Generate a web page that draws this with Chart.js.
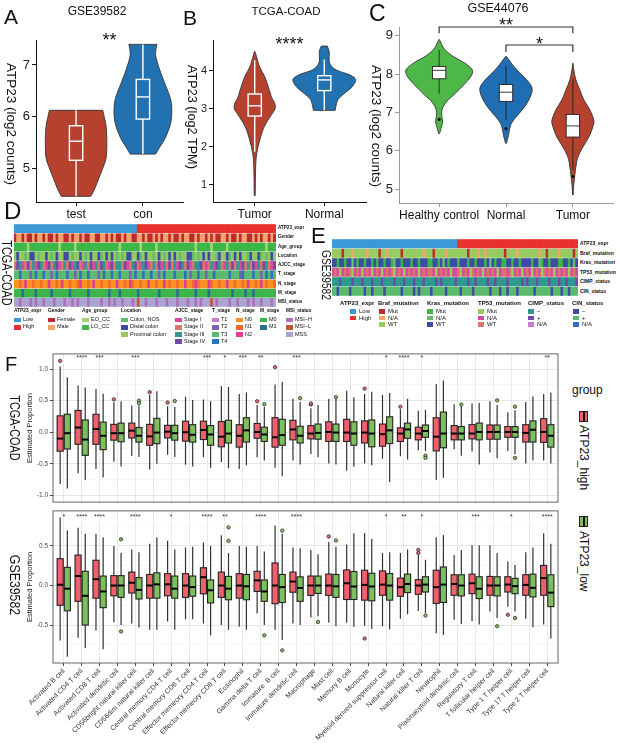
<!DOCTYPE html>
<html>
<head>
<meta charset="utf-8">
<script src="https://cdn.jsdelivr.net/npm/chart.js@4.4.1/dist/chart.umd.min.js"></script>
<style>
  body { margin: 0; background: #fff; font-family: "Liberation Sans", Arial, sans-serif; }
  #page { position: relative; width: 620px; height: 748px; overflow: hidden; background: #fff; }
  canvas { position: absolute; }
  .t { position: absolute; white-space: nowrap; line-height: 1; color: #111; }
  .v { writing-mode: vertical-rl; }
  .sw { position: absolute; }
</style>
</head>
<body>
<div id="page">
  <canvas id="chartA" width="200" height="225" style="left:0;top:0"></canvas>
  <canvas id="chartB" width="185" height="225" style="left:185px;top:0"></canvas>
  <canvas id="chartC" width="255" height="225" style="left:365px;top:0"></canvas>
  <canvas id="heatD" width="262" height="83" style="left:14px;top:224px"></canvas>
  <canvas id="heatE" width="246" height="57" style="left:332px;top:239px"></canvas>
  <canvas id="boxTop" width="562" height="160" style="left:0;top:348px"></canvas>
  <canvas id="boxBottom" width="562" height="243" style="left:0;top:505px"></canvas>

  <div class="t" style="left:4px;top:5.6px;font-size:21px">A</div>
  <div class="t" style="left:183px;top:6.6px;font-size:21px">B</div>
  <div class="t" style="left:369px;top:2px;font-size:23px">C</div>
  <div class="t" style="left:4px;top:199px;font-size:24px">D</div>
  <div class="t" style="left:311px;top:225px;font-size:22px">E</div>
  <div class="t" style="left:5px;top:354px;font-size:20px">F</div>

  <div class="t" style="left:0;width:194px;text-align:center;top:5.4px;font-size:12px">GSE39582</div>
  <div class="t" style="left:236px;width:100px;text-align:center;top:5.8px;font-size:11.5px">TCGA-COAD</div>
  <div class="t" style="left:448px;width:100px;text-align:center;top:2.4px;font-size:12.5px">GSE44076</div>

  <div class="t v" style="left:4.3px;top:63px;font-size:13.5px">ATP23 (log2 counts)</div>
  <div class="t v" style="left:185.6px;top:65px;font-size:12.7px">ATP23 (log2 TPM)</div>
  <div class="t v" style="left:369.3px;top:65px;font-size:13.5px">ATP23 (log2 counts)</div>

  <div class="t v" style="left:0;top:272.5px;font-size:14px;transform:translateY(-50%) scaleY(0.78)">TCGA-COAD</div>
  <div class="t v" style="left:320px;top:275px;font-size:12px;transform:translateY(-50%) scaleY(0.85)">GSE39582</div>
  <div class="t v" style="left:8px;top:428px;font-size:14px;transform:translateY(-50%) scaleY(0.78)">TCGA-COAD</div>
  <div class="t v" style="left:8px;top:585px;font-size:14px;transform:translateY(-50%) scaleY(0.88)">GSE39582</div>

  <div class="t" style="left:572px;top:383.5px;font-size:12px">group</div>
  <div class="sw" style="left:579px;top:411px;width:7px;height:9px;background:#F0606A;border:1px solid #222"></div>
  <div class="sw" style="left:583px;top:411px;width:1.5px;height:11px;background:#111"></div>
  <div class="t v" style="left:578px;top:425px;font-size:12px">ATP23_high</div>
  <div class="sw" style="left:579px;top:516px;width:7px;height:9px;background:#7CBF5C;border:1px solid #222"></div>
  <div class="sw" style="left:583px;top:516px;width:1.5px;height:11px;background:#111"></div>
  <div class="t v" style="left:578px;top:531px;font-size:12px">ATP23_low</div>
</div>
<script>
Chart.defaults.font.family = '"Liberation Sans", Arial, sans-serif';

// ---------- A: GSE39582 ----------
const aGroups = ['test', 'con'];
const aTestLevels = [4.45, 4.6, 4.8, 5.0, 5.2, 5.5, 5.8, 6.0, 6.12];
const aTestWidths = [0.22, 0.28, 0.34, 0.40, 0.45, 0.46, 0.45, 0.42, 0.40];
const aConLevels = [5.27, 5.4, 5.6, 5.9, 6.2, 6.4, 6.7, 6.95, 7.2, 7.4];
const aConWidths = [0.19, 0.25, 0.34, 0.42, 0.43, 0.40, 0.31, 0.24, 0.19, 0.21];
const aBoxes = [[4.45, 5.15, 5.52, 5.82, 6.12], [5.27, 5.95, 6.38, 6.72, 7.4]];
const aTicks = [5, 6, 7];

// ---------- B: TCGA-COAD ----------
const bGroups = ['Tumor', 'Normal'];
const bTumorLevels = [0.72, 1.5, 1.9, 2.35, 2.6, 2.85, 3.0, 3.15, 3.3, 3.55, 3.85, 4.1, 4.38, 4.5];
const bTumorWidths = [0.007, 0.014, 0.036, 0.10, 0.157, 0.243, 0.293, 0.286, 0.243, 0.20, 0.143, 0.071, 0.024, 0.007];
const bNormalLevels = [2.96, 3.1, 3.25, 3.4, 3.55, 3.7, 3.8, 3.9, 4.0, 4.1, 4.25, 4.5, 4.65];
const bNormalWidths = [0.157, 0.171, 0.20, 0.286, 0.386, 0.443, 0.443, 0.357, 0.20, 0.114, 0.071, 0.071, 0.043];
const bBoxes = [[1.87, 2.81, 3.08, 3.39, 4.28], [2.96, 3.48, 3.76, 3.87, 4.3]];
const bTicks = [1, 2, 3, 4];

// ---------- C: GSE44076 ----------
const cGroups = ['Healthy control', 'Normal', 'Tumor'];
const cHealthyLevels = [6.45, 6.6, 6.75, 6.85, 7.0, 7.15, 7.3, 7.47, 7.73, 7.95, 8.12, 8.3, 8.48, 8.66, 8.84, 8.9];
const cHealthyWidths = [0.007, 0.03, 0.052, 0.045, 0.037, 0.06, 0.12, 0.224, 0.373, 0.478, 0.493, 0.373, 0.194, 0.075, 0.022, 0.007];
const cNormalLevels = [6.2, 6.4, 6.55, 6.7, 6.85, 7.0, 7.2, 7.45, 7.65, 7.85, 8.0, 8.2, 8.37, 8.46];
const cNormalWidths = [0.007, 0.037, 0.052, 0.075, 0.134, 0.209, 0.299, 0.373, 0.388, 0.313, 0.224, 0.119, 0.045, 0.007];
const cTumorLevels = [4.85, 5.15, 5.58, 5.84, 6.1, 6.36, 6.63, 6.8, 7.07, 7.33, 7.59, 7.85, 8.1, 8.28];
const cTumorWidths = [0.004, 0.015, 0.045, 0.075, 0.149, 0.239, 0.299, 0.313, 0.254, 0.164, 0.104, 0.045, 0.015, 0.004];
const cBoxes = [[7.49, 7.88, 8.1, 8.2, 8.63], [6.8, 7.29, 7.53, 7.73, 8.22], [5.5, 6.36, 6.65, 6.95, 7.88]];
const cOutliers = [[6.82], [6.58], [5.33]];
const cTicks = [5, 6, 7, 8, 9];

// ---------- D: TCGA-COAD annotation heatmap ----------
const dRowNames = ['ATP23_expr', 'Gender', 'Age_group', 'Location', 'AJCC_stage', 'T_stage', 'N_stage', 'M_stage', 'MSI_status'];
const dLevels = [['Low', 'High'], ['Female', 'Male'], ['EO_CC', 'LO_CC'], ['Colon, NOS', 'Distal colon', 'Proximal colon'],
  ['Stage I', 'Stage II', 'Stage III', 'Stage IV'], ['T1', 'T2', 'T3', 'T4'], ['N0', 'N1', 'N2'], ['M0', 'M1'], ['MSI\u2212H', 'MSI\u2212L', 'MSS']];
const dRows = [
  '0000000000 0000000000 0000000000 0000000000 0000000111 1111111111 1111111111 1111111111 1111111111 1111111111',
  '0110100101 1010010110 0101101001 1001101010 0101100110 1001010110 1001011001 0110101001 1010010110 0101011010',
  '1111101111 1111111011 1110111111 1111111111 0111111101 1111011111 1111111110 1111101111 1011111111 1111110111',
  '2122021120 2212021221 1202212021 2210212120 2021122102 1220212021 2120221102 0212122012 2102121220 1221020212',
  '1320131203 2103123012 1302310213 0213210312 2130123102 3012130213 1203213012 2310120321 0213120312 1302132103',
  '2232221232 2322123222 3221232232 2212322322 3222123223 2232212322 2322232122 3221223222 2232221322 2322123232',
  '0010200100 1002001020 0100120010 2001001002 0010210010 0200100201 0010020012 1000210010 0200100102 0010201001',
  '0001000010 0000100000 0100000010 0000001000 1000000100 0000010000 0010000001 0000100000 0001000010 0100000000',
  '2202220202 2022202220 2202022202 2220220202 2022202122 0222022202 2202220220 2022212022 2202202220 2022022202'
];
const dPalette = [
  ['#3B9AD6', '#E8322E'], ['#BE2A2F', '#F4A469'], ['#A2D373', '#3DB649'], ['#62BD6E', '#3C4BA3', '#94C95F'],
  ['#D84A9C', '#D7776B', '#2C9A8D', '#6C4CA5'], ['#C57DC7', '#7B62B6', '#5BBA6C', '#2F70BF'],
  ['#F7941E', '#F26A2C', '#DE3D96'], ['#3CB54A', '#2C6E8D'], ['#B06EC0', '#C2553A', '#A9A5D0']
];

// ---------- E: GSE39582 annotation heatmap ----------
const eRowNames = ['ATP23_expr', 'Braf_mutation', 'Kras_mutation', 'TP53_mutation', 'CIMP_status', 'CIN_status'];
const eLevels = [['Low', 'High'], ['Mut', 'N/A', 'WT'], ['Mut', 'N/A', 'WT'], ['Mut', 'N/A', 'WT'], ['\u2212', '+', 'N/A'], ['\u2212', '+', 'N/A']];
const eRows = [
  '0000000000 0000000000 0000000000 0000000000 0000000000 0111111111 1111111111 1111111111 1111111111 1111111111',
  '2222022212 2222122220 2212222202 2222222122 2022221222 2222202221 2212222222 0222212222 2222122022 2212222202',
  '2202202212 0220220202 2022012202 2202202220 0220212022 2022202202 2202120220 0220220222 2022102202 2200220212',
  '1210121201 2101210121 0121201210 1212101212 2101212101 1201210212 1012121012 2120121012 1012102121 0121210121',
  '0001000010 0010001000 1000010001 0001000100 0010100000 1000010010 0001001000 0100000101 0001000010 0010010001',
  '1101111011 1110110111 1011111101 1110101111 0111110111 1101111011 1111011101 1011101111 1101111110 1110110111'
];
const ePalette = [
  ['#3B9AD6', '#E8322E'], ['#BE2A2F', '#F4A469', '#95CC61'], ['#3CB549', '#62BD6E', '#3C4BA3'],
  ['#9BCB5F', '#D84A9C', '#D7776B'], ['#2C9A8D', '#6C4CA5', '#C57DC7'], ['#3C4BA3', '#5BBA6C', '#2F70BF']
];

// ---------- F: immune cell proportions, [whisker low, q1, median, q3, whisker high] ----------
const cellTypes = ['Activated B cell', 'Activated CD4 T cell', 'Activated CD8 T cell', 'Activated dendritic cell',
  'CD56bright natural killer cell', 'CD56dim natural killer cell', 'Central memory CD4 T cell', 'Central memory CD8 T cell',
  'Effector memeory CD4 T cell', 'Effector memeory CD8 T cell', 'Eosinophil', 'Gamma delta T cell', 'Immature  B cell',
  'Immature dendritic cell', 'Macrophage', 'Mast cell', 'Memory B cell', 'Monocyte', 'Myeloid derived suppressor cell',
  'Natural killer cell', 'Natural killer T cell', 'Neutrophil', 'Plasmacytoid dendritic cell', 'Regulatory T cell',
  'T follicular helper cell', 'Type 1 T helper cell', 'Type 17 T helper cell', 'Type 2 T helper cell'];

const tcgaHigh = [
  [-0.82, -0.30, -0.10, 0.26, 1.04], [-0.65, -0.19, 0.075, 0.345, 0.74], [-0.58, -0.19, 0.05, 0.285, 0.685],
  [-0.465, -0.125, -0.015, 0.125, 0.475], [-0.375, -0.09, 0.025, 0.145, 0.425], [-0.59, -0.205, -0.065, 0.125, 0.595],
  [-0.355, -0.09, 0.01, 0.11, 0.41], [-0.515, -0.14, 0.0, 0.175, 0.56], [-0.39, -0.115, 0.035, 0.175, 0.52],
  [-0.47, -0.23, -0.07, 0.17, 0.73], [-0.58, -0.235, -0.055, 0.12, 0.605], [-0.395, -0.095, 0.005, 0.14, 0.43],
  [-0.56, -0.235, -0.08, 0.23, 0.755], [-0.445, -0.12, 0.045, 0.19, 0.53], [-0.345, -0.105, -0.02, 0.105, 0.38],
  [-0.495, -0.145, 0.005, 0.165, 0.53], [-0.61, -0.145, -0.005, 0.205, 0.655], [-0.495, -0.17, -0.005, 0.18, 0.605],
  [-0.42, -0.22, -0.03, 0.13, 0.59], [-0.38, -0.145, -0.02, 0.07, 0.365], [-0.285, -0.12, -0.02, 0.08, 0.34],
  [-0.755, -0.295, -0.07, 0.23, 0.765], [-0.27, -0.12, -0.02, 0.105, 0.445], [-0.305, -0.105, -0.02, 0.12, 0.455],
  [-0.32, -0.11, 0.005, 0.115, 0.49], [-0.295, -0.08, 0.005, 0.09, 0.315], [-0.495, -0.155, -0.01, 0.12, 0.48],
  [-0.445, -0.16, 0.005, 0.215, 0.605]
];
const tcgaLow = [
  [-0.89, -0.265, -0.015, 0.285, 0.87], [-0.755, -0.365, -0.115, 0.195, 0.71], [-0.715, -0.275, -0.055, 0.16, 0.61],
  [-0.54, -0.15, -0.015, 0.145, 0.485], [-0.39, -0.155, -0.055, 0.075, 0.425], [-0.5, -0.18, -0.005, 0.22, 0.65],
  [-0.39, -0.125, -0.015, 0.11, 0.4], [-0.54, -0.155, -0.04, 0.12, 0.51], [-0.56, -0.205, -0.035, 0.105, 0.49],
  [-0.57, -0.17, -0.02, 0.19, 0.715], [-0.52, -0.155, 0.03, 0.23, 0.63], [-0.445, -0.145, -0.035, 0.08, 0.405],
  [-0.695, -0.205, -0.045, 0.205, 0.795], [-0.51, -0.17, -0.055, 0.095, 0.48], [-0.395, -0.11, -0.01, 0.13, 0.43],
  [-0.51, -0.145, -0.005, 0.13, 0.53], [-0.545, -0.205, -0.02, 0.165, 0.555], [-0.52, -0.23, -0.02, 0.195, 0.64],
  [-0.785, -0.18, 0.03, 0.245, 0.62], [-0.43, -0.095, 0.045, 0.145, 0.53], [-0.295, -0.08, 0.02, 0.115, 0.355],
  [-0.72, -0.245, -0.02, 0.32, 0.82], [-0.37, -0.12, -0.02, 0.09, 0.42], [-0.51, -0.12, 0.005, 0.145, 0.465],
  [-0.41, -0.11, 0.005, 0.115, 0.43], [-0.345, -0.08, 0.005, 0.09, 0.35], [-0.445, -0.155, 0.04, 0.18, 0.565],
  [-0.495, -0.235, -0.055, 0.12, 0.63]
];
const tcgaHighOut = [[0, 1.13], [3, 0.52], [5, 0.635], [6, 0.47], [11, 0.49], [12, 1.03], [14, 0.44], [14, 0.455], [17, 0.69], [19, 0.405]];
const tcgaLowOut = [[4, 0.5], [4, 0.46], [6, 0.495], [11, 0.445], [13, 0.54], [15, 0.555], [20, -0.37], [20, -0.405], [22, 0.44], [24, 0.505], [25, 0.405], [25, -0.405]];
const tcgaStars = ['', '****', '***', '', '***', '', '', '', '***', '*', '***', '**', '', '***', '', '', '', '', '*', '****', '*', '', '', '', '', '', '', '**'];
const tcgaGrid = [-1, -0.75, -0.5, -0.25, 0, 0.25, 0.5, 0.75, 1];

const gseHigh = [
  [-0.695, -0.25, 0.01, 0.34, 0.86], [-0.66, -0.2, 0.12, 0.385, 0.73], [-0.57, -0.16, 0.08, 0.32, 0.655],
  [-0.465, -0.13, 0.0, 0.125, 0.5], [-0.48, -0.095, 0.035, 0.17, 0.455], [-0.56, -0.16, 0.0, 0.14, 0.53],
  [-0.455, -0.13, 0.015, 0.15, 0.565], [-0.425, -0.15, 0.0, 0.15, 0.48], [-0.48, -0.105, 0.105, 0.225, 0.545],
  [-0.5, -0.15, 0.0, 0.17, 0.635], [-0.52, -0.16, 0.0, 0.15, 0.5], [-0.355, -0.075, 0.065, 0.18, 0.5],
  [-0.56, -0.23, 0.0, 0.285, 0.76], [-0.48, -0.085, 0.05, 0.17, 0.48], [-0.405, -0.125, 0.0, 0.12, 0.45],
  [-0.47, -0.125, 0.0, 0.145, 0.55], [-0.47, -0.177, 0.029, 0.197, 0.52], [-0.51, -0.185, 0.008, 0.193, 0.665],
  [-0.514, -0.123, 0.012, 0.185, 0.41], [-0.42, -0.136, -0.021, 0.094, 0.41], [-0.321, -0.111, 0.0, 0.074, 0.385],
  [-0.605, -0.226, -0.021, 0.193, 0.61], [-0.432, -0.123, 0.02, 0.136, 0.385], [-0.453, -0.103, 0.029, 0.144, 0.51],
  [-0.329, -0.123, 0.0, 0.115, 0.51], [-0.267, -0.082, 0.012, 0.111, 0.305], [-0.42, -0.123, 0.008, 0.136, 0.42],
  [-0.494, -0.123, 0.094, 0.255, 0.66]
];
const gseLow = [
  [-0.9, -0.32, -0.04, 0.23, 0.695], [-0.79, -0.5, -0.13, 0.18, 0.655], [-0.805, -0.28, -0.075, 0.12, 0.61],
  [-0.5, -0.15, 0.0, 0.125, 0.415], [-0.53, -0.17, -0.055, 0.1, 0.42], [-0.56, -0.16, 0.015, 0.16, 0.61],
  [-0.56, -0.16, -0.04, 0.12, 0.455], [-0.425, -0.135, -0.02, 0.12, 0.49], [-0.63, -0.22, -0.06, 0.07, 0.5],
  [-0.56, -0.18, -0.04, 0.115, 0.41], [-0.56, -0.18, -0.01, 0.14, 0.49], [-0.5, -0.2, -0.075, 0.07, 0.43],
  [-0.69, -0.215, -0.02, 0.14, 0.655], [-0.5, -0.2, -0.03, 0.11, 0.47], [-0.39, -0.1, 0.0, 0.12, 0.395],
  [-0.515, -0.15, -0.01, 0.14, 0.49], [-0.52, -0.177, -0.012, 0.177, 0.66], [-0.55, -0.193, -0.012, 0.156, 0.59],
  [-0.556, -0.185, 0.0, 0.152, 0.42], [-0.362, -0.09, 0.02, 0.144, 0.455], [-0.35, -0.082, 0.012, 0.111, 0.325],
  [-0.626, -0.214, 0.012, 0.234, 0.64], [-0.486, -0.132, 0.0, 0.136, 0.45], [-0.494, -0.165, -0.041, 0.111, 0.51],
  [-0.412, -0.132, 0.0, 0.111, 0.41], [-0.329, -0.103, -0.008, 0.09, 0.26], [-0.527, -0.144, -0.029, 0.144, 0.48],
  [-0.671, -0.267, -0.09, 0.136, 0.53]
];
const gseHighOut = [[15, 0.62], [17, -0.67], [20, 0.45], [20, 0.41], [25, -0.37]];
const gseLowOut = [[3, 0.585], [3, -0.58], [9, 0.735], [9, 0.565], [11, -0.63], [12, 0.695], [12, -0.82], [14, -0.46], [15, 0.57], [20, -0.38], [24, -0.515], [25, -0.41]];
const gseStars = ['*', '****', '****', '', '****', '', '*', '', '****', '**', '', '****', '', '****', '', '', '', '', '*', '**', '*', '', '', '***', '', '*', '', '****'];
const gseGrid = [-0.75, -0.5, -0.25, 0, 0.25, 0.5, 0.75];

const HIGH = '#F0606A', LOW = '#7CBF5C';

// smooth curve through points (Catmull-Rom as bezier)
function spline(ctx, pts) {
  for (let i = 0; i < pts.length - 1; i++) {
    const p0 = pts[i - 1] || pts[i], p1 = pts[i], p2 = pts[i + 1], p3 = pts[i + 2] || p2;
    ctx.bezierCurveTo(p1[0] + (p2[0] - p0[0]) / 6, p1[1] + (p2[1] - p0[1]) / 6,
      p2[0] - (p3[0] - p1[0]) / 6, p2[1] - (p3[1] - p1[1]) / 6, p2[0], p2[1]);
  }
}

function violinPlugin(o) {
  return {
    id: 'violins',
    afterDatasetsDraw(chart) {
      const { ctx, scales: { x, y } } = chart;
      const px = v => x.getPixelForValue(v), py = v => y.getPixelForValue(v);
      ctx.save();
      o.violins.forEach((vi, i) => {
        const c = i + 1;
        const right = vi.levels.map((lv, k) => [px(c + vi.widths[k]), py(lv)]);
        const left = vi.levels.map((lv, k) => [px(c - vi.widths[k]), py(lv)]).reverse();
        ctx.beginPath();
        ctx.moveTo(right[0][0], right[0][1]);
        spline(ctx, right);
        ctx.lineTo(left[0][0], left[0][1]);
        spline(ctx, left);
        ctx.closePath();
        ctx.fillStyle = vi.color;
        ctx.fill();
        ctx.strokeStyle = '#333';
        ctx.lineWidth = 0.9;
        ctx.stroke();

        const [lo, q1, md, q3, hi] = o.boxes[i];
        const hw = px(c + o.boxHalf) - px(c);
        ctx.strokeStyle = o.boxLine;
        ctx.lineWidth = o.boxWidth;
        ctx.beginPath();
        ctx.moveTo(px(c), py(lo)); ctx.lineTo(px(c), py(q1));
        ctx.moveTo(px(c), py(q3)); ctx.lineTo(px(c), py(hi));
        ctx.stroke();
        if (o.boxFill) {
          ctx.fillStyle = o.boxFill;
          ctx.fillRect(px(c) - hw, py(q3), 2 * hw, py(q1) - py(q3));
        }
        ctx.strokeRect(px(c) - hw, py(q3), 2 * hw, py(q1) - py(q3));
        ctx.beginPath();
        ctx.moveTo(px(c) - hw, py(md)); ctx.lineTo(px(c) + hw, py(md));
        ctx.stroke();
        (o.outliers ? o.outliers[i] : []).forEach(v => {
          ctx.fillStyle = '#111';
          ctx.beginPath(); ctx.arc(px(c), py(v), 1.6, 0, Math.PI * 2); ctx.fill();
        });
      });
      ctx.fillStyle = '#111';
      ctx.strokeStyle = '#333';
      ctx.lineWidth = 1.2;
      ctx.textAlign = 'center';
      ctx.textBaseline = 'alphabetic';
      ctx.font = '18px "Liberation Sans", Arial, sans-serif';
      (o.brackets || []).forEach(b => {
        ctx.beginPath();
        ctx.moveTo(px(b.x1), py(b.drop)); ctx.lineTo(px(b.x1), py(b.y));
        ctx.lineTo(px(b.x2), py(b.y)); ctx.lineTo(px(b.x2), py(b.drop));
        ctx.stroke();
      });
      o.labels.forEach(l => ctx.fillText(l.text, px(l.x), py(l.y)));
      ctx.restore();
    }
  };
}

function violinChart(id, o) {
  return new Chart(document.getElementById(id), {
    type: 'scatter',
    data: { datasets: [] },
    options: {
      responsive: false,
      animation: false,
      layout: { padding: o.pad },
      plugins: { legend: { display: false }, tooltip: { enabled: false } },
      scales: {
        x: {
          type: 'linear', min: 0.4, max: o.groups.length + 0.6,
          afterBuildTicks: s => { s.ticks = o.groups.map((g, i) => ({ value: i + 1 })); },
          afterFit: s => { s.height = o.xh; },
          ticks: { callback: v => o.groups[v - 1], font: { size: o.xFont }, color: '#111', padding: 1, maxRotation: 0 },
          grid: { drawOnChartArea: false, tickLength: 4, color: o.axis },
          border: { color: o.axis, width: 1 }
        },
        y: {
          min: o.yMin, max: o.yMax,
          afterBuildTicks: s => { s.ticks = o.yTicks.map(v => ({ value: v })); },
          afterFit: s => { s.width = o.yw; },
          ticks: { font: { size: o.yFont }, color: '#222', padding: 2 },
          grid: { drawOnChartArea: false, tickLength: 4, color: o.axis },
          border: { color: o.axis, width: 1 }
        }
      }
    },
    plugins: [violinPlugin(o)]
  });
}

violinChart('chartA', {
  groups: aGroups, yMin: 4.34, yMax: 7.485, yTicks: aTicks,
  pad: { left: 0, top: 40, right: 17, bottom: 0 }, xh: 23, yw: 36, xFont: 12, yFont: 13, axis: '#111',
  violins: [{ levels: aTestLevels, widths: aTestWidths, color: '#B5412E' }, { levels: aConLevels, widths: aConWidths, color: '#2271B1' }],
  boxes: aBoxes, boxHalf: 0.1, boxLine: '#fff', boxWidth: 1.4,
  labels: [{ x: 1.5, y: 7.37, text: '**' }]
});

violinChart('chartB', {
  groups: bGroups, yMin: 0.55, yMax: 4.81, yTicks: bTicks,
  pad: { left: 0, top: 40, right: 4, bottom: 0 }, xh: 23, yw: 28, xFont: 12, yFont: 11, axis: '#111',
  violins: [{ levels: bTumorLevels, widths: bTumorWidths, color: '#B5412E' }, { levels: bNormalLevels, widths: bNormalWidths, color: '#2271B1' }],
  boxes: bBoxes, boxHalf: 0.095, boxLine: '#fff', boxWidth: 1.4,
  labels: [{ x: 1.5, y: 4.54, text: '****' }]
});

violinChart('chartC', {
  groups: cGroups, yMin: 4.64, yMax: 9.23, yTicks: cTicks,
  pad: { left: 0, top: 27, right: 7, bottom: 0 }, xh: 22, yw: 34, xFont: 12, yFont: 13, axis: '#9a9a9a',
  violins: [{ levels: cHealthyLevels, widths: cHealthyWidths, color: '#4DB748' },
    { levels: cNormalLevels, widths: cNormalWidths, color: '#1F6DB2' },
    { levels: cTumorLevels, widths: cTumorWidths, color: '#B5412E' }],
  boxes: cBoxes, outliers: cOutliers, boxHalf: 0.1, boxLine: '#222', boxWidth: 0.9, boxFill: '#fff',
  brackets: [{ x1: 1, x2: 3, y: 9.23, drop: 9.07 }, { x1: 2, x2: 3, y: 8.76, drop: 8.58 }],
  labels: [{ x: 2, y: 9.12, text: '**' }, { x: 2.5, y: 8.63, text: '*' }]
});

// ---------- heatmaps ----------
function heatmap(id, strings, palette) {
  const rows = strings.map(s => s.replace(/ /g, '').split('').map(Number));
  return new Chart(document.getElementById(id), {
    type: 'bar',
    data: {
      labels: rows[0].map((_, i) => i + 1),
      datasets: rows.map((codes, r) => ({
        data: codes.map(() => [r + 0.06, r + 0.94]),
        backgroundColor: codes.map(c => palette[r][c]),
        borderWidth: 0, barPercentage: 1, categoryPercentage: 1, grouped: false
      }))
    },
    options: {
      responsive: false, animation: false,
      layout: { padding: 0 },
      plugins: { legend: { display: false }, tooltip: { enabled: false } },
      scales: { x: { display: false }, y: { display: false, min: 0, max: rows.length, reverse: true } }
    }
  });
}
heatmap('heatD', dRows, dPalette);
heatmap('heatE', eRows, ePalette);

// heatmap row names and legends (html text)
const page = document.getElementById('page');
function addText(txt, left, top, size, bold) {
  const d = document.createElement('div');
  d.className = 't';
  d.textContent = txt;
  d.style.left = left + 'px';
  d.style.top = top + 'px';
  d.style.fontSize = size + 'px';
  if (bold) d.style.fontWeight = 'bold';
  page.appendChild(d);
}
function addSwatch(left, top, w, h, color) {
  const d = document.createElement('div');
  d.className = 'sw';
  Object.assign(d.style, { left: left + 'px', top: top + 'px', width: w + 'px', height: h + 'px', background: color });
  page.appendChild(d);
}
dRowNames.forEach((n, r) => addText(n, 278, 224 + (r + 0.5) * 9.22 - 2.4, 4.6, true));
eRowNames.forEach((n, r) => addText(n, 580, 239 + (r + 0.5) * 9.5 - 2.6, 5, true));

const dLegX = [14, 48, 82, 121, 175, 212, 236, 260, 286];
dRowNames.forEach((n, g) => {
  addText(n, dLegX[g], 309.3, 4.8, true);
  dLevels[g].forEach((lab, k) => {
    const top = 317.7 + k * 7.2;
    addSwatch(dLegX[g], top, 7, 4.7, dPalette[g][k]);
    addText(lab, dLegX[g] + 9, top - 0.6, 5.5, false);
  });
});
const eLegX = [340, 378, 427, 478, 528, 572];
const eSwX = [350, 379, 427, 478, 528, 573];
eRowNames.forEach((n, g) => {
  addText(n, eLegX[g], 300.3, 6, true);
  eLevels[g].forEach((lab, k) => {
    const top = 309 + k * 6.5;
    addSwatch(eSwX[g], top, 6, 4.7, ePalette[g][k]);
    addText(lab, eSwX[g] + 9, top - 0.7, 6, false);
  });
});

// ---------- F: grouped boxplots ----------
function boxPlugin(groups, stars, starY) {
  return {
    id: 'boxplots',
    afterDatasetsDraw(chart) {
      const { ctx, chartArea: a, scales: { x, y } } = chart;
      const px = v => x.getPixelForValue(v), py = v => y.getPixelForValue(v);
      const hw = px(0.17) - px(0);
      ctx.save();
      groups.forEach(g => {
        g.stats.forEach((s, i) => {
          const cx = px(i + g.offset);
          const [lo, q1, md, q3, hi] = s.map(py);
          ctx.strokeStyle = '#333';
          ctx.lineWidth = 1.2;
          ctx.beginPath();
          ctx.moveTo(cx, lo); ctx.lineTo(cx, q1);
          ctx.moveTo(cx, q3); ctx.lineTo(cx, hi);
          ctx.stroke();
          ctx.fillStyle = g.color;
          ctx.fillRect(cx - hw, q3, 2 * hw, q1 - q3);
          ctx.strokeStyle = '#222';
          ctx.lineWidth = 1.1;
          ctx.strokeRect(cx - hw, q3, 2 * hw, q1 - q3);
          ctx.strokeStyle = '#000';
          ctx.lineWidth = 2;
          ctx.beginPath(); ctx.moveTo(cx - hw, md); ctx.lineTo(cx + hw, md); ctx.stroke();
        });
        g.outliers.forEach(([i, v]) => {
          ctx.fillStyle = g.color;
          ctx.strokeStyle = '#333';
          ctx.lineWidth = 0.8;
          ctx.beginPath(); ctx.arc(px(i + g.offset), py(v), 1.7, 0, Math.PI * 2); ctx.fill(); ctx.stroke();
        });
      });
      ctx.fillStyle = '#333';
      ctx.font = '7px "Liberation Sans", Arial, sans-serif';
      ctx.textAlign = 'center';
      stars.forEach((s, i) => { if (s) ctx.fillText(s, px(i), py(starY)); });
      ctx.strokeStyle = '#555';
      ctx.lineWidth = 0.9;
      ctx.strokeRect(a.left, a.top, a.right - a.left, a.bottom - a.top);
      ctx.restore();
    }
  };
}

const isMajor = v => Math.abs(v * 2 - Math.round(v * 2)) < 1e-6;

function facetChart(id, o) {
  return new Chart(document.getElementById(id), {
    type: 'scatter',
    data: { datasets: [] },
    options: {
      responsive: false, animation: false,
      layout: { padding: { left: 22, top: 2, right: 4, bottom: 0 } },
      plugins: { legend: { display: false }, tooltip: { enabled: false } },
      scales: {
        x: {
          type: 'linear', min: -0.6, max: cellTypes.length - 0.4,
          afterBuildTicks: s => { s.ticks = cellTypes.map((c, i) => ({ value: i })); },
          afterFit: s => { s.height = o.xh; },
          ticks: {
            display: o.showLabels, autoSkip: false, minRotation: 45, maxRotation: 45, padding: 1,
            font: { size: 7 }, color: '#333', callback: v => cellTypes[v]
          },
          grid: { color: '#E6E6E6', lineWidth: 0.9, tickLength: o.showLabels ? 3 : 0, tickColor: '#333' },
          border: { display: false }
        },
        y: {
          min: o.yMin, max: o.yMax,
          afterBuildTicks: s => { s.ticks = o.grid.map(v => ({ value: v })); },
          afterFit: s => { s.width = 31; },
          title: { display: true, text: 'Estimated Proportion', font: { size: 7.5 }, color: '#222', padding: { top: 3, bottom: 0 } },
          ticks: { font: { size: 6.5 }, color: '#4D4D4D', padding: 2, callback: v => isMajor(v) ? v.toFixed(1) : '' },
          grid: {
            color: c => isMajor(c.tick.value) ? '#E3E3E3' : '#F2F2F2',
            lineWidth: c => isMajor(c.tick.value) ? 0.9 : 0.6,
            tickColor: c => isMajor(c.tick.value) ? '#333' : 'rgba(0,0,0,0)',
            tickLength: 3
          },
          border: { display: false }
        }
      }
    },
    plugins: [boxPlugin(o.groups, o.stars, o.starY)]
  });
}

facetChart('boxTop', {
  yMin: -1.105, yMax: 1.24, grid: tcgaGrid, xh: 2, showLabels: false, stars: tcgaStars, starY: 1.15,
  groups: [{ stats: tcgaHigh, outliers: tcgaHighOut, color: HIGH, offset: -0.2 },
    { stats: tcgaLow, outliers: tcgaLowOut, color: LOW, offset: 0.2 }]
});
facetChart('boxBottom', {
  yMin: -0.98, yMax: 0.944, grid: gseGrid, xh: 85, showLabels: true, stars: gseStars, starY: 0.845,
  groups: [{ stats: gseHigh, outliers: gseHighOut, color: HIGH, offset: -0.2 },
    { stats: gseLow, outliers: gseLowOut, color: LOW, offset: 0.2 }]
});
</script>
</body>
</html>
